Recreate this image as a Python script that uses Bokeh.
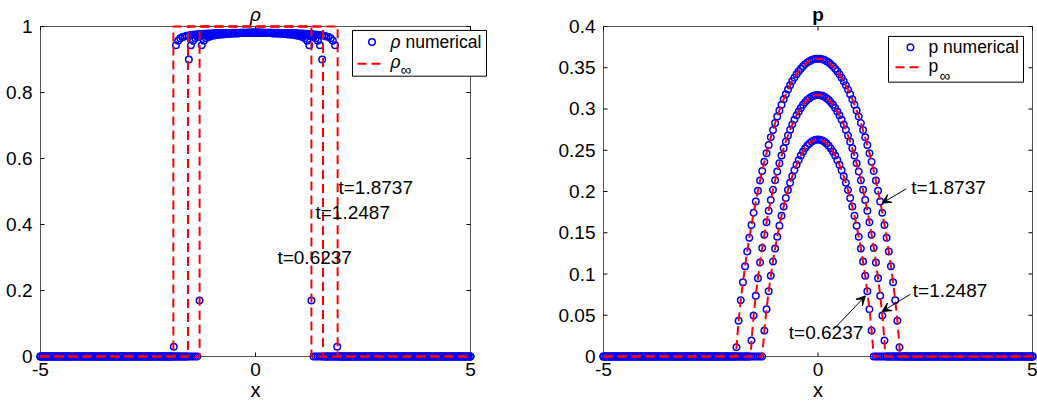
import numpy as np
from bokeh.plotting import figure
from bokeh.layouts import row
from bokeh.models import (ColumnDataSource, Label, Arrow, VeeHead, LinearAxis,
                          FixedTicker, Range1d)
from bokeh.embed import file_html
from bokeh.resources import INLINE

# ---------------------------------------------------------------- data --
# output times of the three snapshots
times = ["0.6237", "1.2487", "1.8737"]

# mesh nodes on [-5, 5]
dx = 0.05
x_grid = np.round(np.linspace(-5.0, 5.0, 201), 2)

# half-width of the asymptotic support at each time
front = [1.30, 1.57, 1.91]

# numerical density: first nonzero node and values from there on (zero elsewhere)
rho_start = [-1.30, -1.55, -1.90]
rho_t1 = [0.170, 0.943, 0.957, 0.964, 0.968, 0.970, 0.972, 0.973, 0.974, 0.975,
          0.976, 0.976, 0.977, 0.977, 0.978, 0.978, 0.979, 0.979, 0.979, 0.980,
          0.980, 0.980, 0.980, 0.981, 0.981, 0.982, 0.982, 0.982, 0.981, 0.981,
          0.980, 0.980, 0.980, 0.980, 0.979, 0.979, 0.979, 0.978, 0.978, 0.977,
          0.977, 0.976, 0.976, 0.975, 0.974, 0.973, 0.972, 0.970, 0.968, 0.964,
          0.957, 0.943, 0.170]
rho_t2 = [0.900, 0.943, 0.957, 0.964, 0.968, 0.970, 0.972, 0.973, 0.974, 0.975,
          0.976, 0.976, 0.977, 0.977, 0.978, 0.978, 0.979, 0.979, 0.979, 0.980,
          0.980, 0.980, 0.980, 0.980, 0.981, 0.981, 0.981, 0.981, 0.982, 0.982,
          0.982, 0.982, 0.982, 0.982, 0.982, 0.981, 0.981, 0.981, 0.981, 0.980,
          0.980, 0.980, 0.980, 0.980, 0.979, 0.979, 0.979, 0.978, 0.978, 0.977,
          0.977, 0.976, 0.976, 0.975, 0.974, 0.973, 0.972, 0.970, 0.968, 0.964,
          0.957, 0.943, 0.900]
rho_t3 = [0.030, 0.943, 0.957, 0.964, 0.968, 0.970, 0.972, 0.973, 0.974, 0.975,
          0.976, 0.976, 0.977, 0.977, 0.978, 0.978, 0.979, 0.979, 0.979, 0.980,
          0.980, 0.980, 0.980, 0.980, 0.980, 0.980, 0.980, 0.981, 0.981, 0.981,
          0.981, 0.981, 0.981, 0.981, 0.981, 0.981, 0.981, 0.981, 0.981, 0.981,
          0.981, 0.981, 0.981, 0.981, 0.981, 0.981, 0.981, 0.981, 0.981, 0.981,
          0.980, 0.980, 0.980, 0.980, 0.980, 0.980, 0.980, 0.980, 0.979, 0.979,
          0.979, 0.978, 0.978, 0.977, 0.977, 0.976, 0.976, 0.975, 0.974, 0.973,
          0.972, 0.970, 0.968, 0.964, 0.957, 0.943, 0.030]

# numerical pressure: first nonzero node and values from there on
p_start = [-1.25, -1.55, -1.90]
p_t1 = [0.0314, 0.0573, 0.0790, 0.0980, 0.1152, 0.1308, 0.1452, 0.1584, 0.1706, 0.1818,
        0.1922, 0.2018, 0.2105, 0.2185, 0.2258, 0.2324, 0.2383, 0.2436, 0.2482, 0.2521,
        0.2555, 0.2582, 0.2603, 0.2618, 0.2627, 0.2630, 0.2627, 0.2618, 0.2603, 0.2582,
        0.2555, 0.2521, 0.2482, 0.2436, 0.2383, 0.2324, 0.2258, 0.2185, 0.2105, 0.2018,
        0.1922, 0.1818, 0.1706, 0.1584, 0.1452, 0.1308, 0.1152, 0.0980, 0.0790, 0.0573,
        0.0314]
p_t2 = [0.0194, 0.0496, 0.0738, 0.0950, 0.1141, 0.1316, 0.1477, 0.1627, 0.1767, 0.1898,
        0.2020, 0.2135, 0.2242, 0.2342, 0.2435, 0.2523, 0.2604, 0.2679, 0.2748, 0.2812,
        0.2870, 0.2923, 0.2970, 0.3012, 0.3050, 0.3082, 0.3109, 0.3131, 0.3148, 0.3160,
        0.3168, 0.3170, 0.3168, 0.3160, 0.3148, 0.3131, 0.3109, 0.3082, 0.3050, 0.3012,
        0.2970, 0.2923, 0.2870, 0.2812, 0.2748, 0.2679, 0.2604, 0.2523, 0.2435, 0.2342,
        0.2242, 0.2135, 0.2020, 0.1898, 0.1767, 0.1627, 0.1477, 0.1316, 0.1141, 0.0950,
        0.0738, 0.0496, 0.0194]
p_t3 = [0.0113, 0.0435, 0.0683, 0.0899, 0.1094, 0.1273, 0.1439, 0.1595, 0.1742, 0.1880,
        0.2010, 0.2133, 0.2250, 0.2360, 0.2465, 0.2564, 0.2658, 0.2746, 0.2830, 0.2909,
        0.2983, 0.3052, 0.3118, 0.3179, 0.3235, 0.3288, 0.3336, 0.3380, 0.3420, 0.3457,
        0.3489, 0.3517, 0.3542, 0.3563, 0.3580, 0.3593, 0.3602, 0.3608, 0.3610, 0.3608,
        0.3602, 0.3593, 0.3580, 0.3563, 0.3542, 0.3517, 0.3489, 0.3457, 0.3420, 0.3380,
        0.3336, 0.3288, 0.3235, 0.3179, 0.3118, 0.3052, 0.2983, 0.2909, 0.2830, 0.2746,
        0.2658, 0.2564, 0.2465, 0.2360, 0.2250, 0.2133, 0.2010, 0.1880, 0.1742, 0.1595,
        0.1439, 0.1273, 0.1094, 0.0899, 0.0683, 0.0435, 0.0113]

# axis ticks
x_ticks = [-5, 0, 5]
x_tick_labels = ["-5", "0", "5"]
rho_ticks = [0, 0.2, 0.4, 0.6, 0.8, 1]
rho_tick_labels = ["0", "0.2", "0.4", "0.6", "0.8", "1"]
p_ticks = [0, 0.05, 0.1, 0.15, 0.2, 0.25, 0.3, 0.35, 0.4]
p_tick_labels = ["0", "0.05", "0.1", "0.15", "0.2", "0.25", "0.3", "0.35", "0.4"]

# ------------------------------------------------------------- helpers --
FONT = "Liberation Sans"
AXC = "#555555"
BLUE = "#0000ff"
RED = "#ff0000"
DASH = "9 5"
TICK_PX = 4
BOX_H = 332           # axes box height in px
BOX_TOP = 24          # axes box top edge on the canvas
PAD_T, PAD_B = 2, 5   # drawing area beyond the axes box (px)
BORDER_T = BOX_TOP - PAD_T
BORDER_B = 407 - BORDER_T - (PAD_T + BOX_H + PAD_B)


def on_grid(start, seg):
    vals = np.zeros(len(x_grid))
    i0 = int(round((start - x_grid[0]) / dx))
    vals[i0:i0 + len(seg)] = seg
    return vals


def seg_x(start, seg):
    return [round(start + dx * i, 4) for i in range(len(seg))]


def quiet_axis(ax):
    ax.axis_line_color = None
    ax.major_tick_line_color = None
    ax.minor_tick_line_color = None
    ax.major_tick_in = 0
    ax.major_tick_out = 0
    ax.minor_tick_in = 0
    ax.minor_tick_out = 0
    ax.major_label_text_font = FONT
    ax.major_label_text_color = "black"


def make_panel(border_l, box_w, pad_l, pad_r, y_end, y_ticks, y_labels, title, style):
    xs = box_w / 10.0
    ys = BOX_H / y_end
    x_rng = Range1d(-5 - pad_l / xs, 5 + pad_r / xs)
    y_rng = Range1d(-PAD_B / ys, y_end + PAD_T / ys)
    width = border_l + pad_l + box_w + pad_r
    p = figure(width=width, height=407, x_range=x_rng, y_range=y_rng, title=None,
               output_backend="svg", toolbar_location=None,
               min_border_left=border_l, min_border_right=0,
               min_border_top=BORDER_T, min_border_bottom=BORDER_B)
    p.xgrid.visible = False
    p.ygrid.visible = False
    p.outline_line_color = None
    p.background_fill_color = "white"
    p.border_fill_color = "white"

    # tick labels
    xa = p.xaxis[0]
    quiet_axis(xa)
    xa.ticker = FixedTicker(ticks=x_ticks)
    xa.major_label_overrides = dict(zip(x_ticks, x_tick_labels))
    xa.major_label_text_font_size = "19px"
    xa.major_label_standoff = 1
    ya = p.yaxis[0]
    quiet_axis(ya)
    ya.ticker = FixedTicker(ticks=y_ticks)
    ya.major_label_overrides = dict(zip(y_ticks, y_labels))
    ya.major_label_text_font_size = "19px"
    ya.major_label_standoff = 2

    # "x" centred under x = 0
    xl = LinearAxis(ticker=FixedTicker(ticks=[0]), major_label_overrides={0: "x"},
                    major_label_text_font_size="20px", major_label_standoff=0)
    quiet_axis(xl)
    p.add_layout(xl, "below")

    # panel title centred over x = 0
    tl = LinearAxis(ticker=FixedTicker(ticks=[0]), major_label_overrides={0: title},
                    major_label_text_font_size="19px", major_label_standoff=0,
                    major_label_text_font_style=style)
    quiet_axis(tl)
    p.add_layout(tl, "above")

    # axes box and inward ticks on all four sides
    p.multi_line([[-5, 5, 5, -5, -5]], [[0, 0, y_end, y_end, 0]],
                 line_color=AXC, line_width=1)
    tx, ty = TICK_PX / xs, TICK_PX / ys
    t_xs, t_ys = [], []
    for t in x_ticks:
        t_xs += [[t, t], [t, t]]
        t_ys += [[0, ty], [y_end, y_end - ty]]
    for t in y_ticks:
        t_xs += [[-5, -5 + tx], [5, 5 - tx]]
        t_ys += [[t, t], [t, t]]
    p.multi_line(t_xs, t_ys, line_color="black", line_width=1)

    # canvas-pixel -> data helpers for placing the key
    left_px = border_l + pad_l
    p._X = lambda px: -5 + (px - left_px) / xs
    p._Y = lambda py: (BOX_TOP + BOX_H - py) / ys
    return p


def draw_key(p, box, circ, dash, texts):
    X, Y = p._X, p._Y
    l, r, t, b = box
    p.quad(left=[X(l)], right=[X(r)], top=[Y(t)], bottom=[Y(b)],
           fill_color="white", line_color="black", line_width=1)
    p.scatter([X(circ[0])], [Y(circ[1])], marker="circle", size=6.5,
              fill_color=None, line_color=BLUE, line_width=1.5)
    p.line([X(dash[0]), X(dash[1])], [Y(dash[2]), Y(dash[2])],
           line_color=RED, line_width=2, line_dash=DASH)
    for txt, px, py, size, style in texts:
        p.add_layout(Label(x=X(px), y=Y(py), text=txt, text_font=FONT,
                           text_font_size=size, text_font_style=style,
                           text_align="left", text_baseline="middle",
                           text_color="black"))


def add_text(p, x, y, txt):
    p.add_layout(Label(x=x, y=y, text=txt, text_font=FONT,
                       text_font_size="19px", text_align="left",
                       text_baseline="middle", text_color="black"))


# ------------------------------------------------------------ density --
rho_num = [on_grid(s, v) for s, v in zip(rho_start, [rho_t1, rho_t2, rho_t3])]
src_rho = ColumnDataSource(dict(x=np.tile(x_grid, 3), y=np.concatenate(rho_num)))
box_xs = [[-5, -R, -R, R, R, 5] for R in front]
box_ys = [[0, 0, 1, 1, 0, 0] for _ in front]

p1 = make_panel(34, 430, 6, 50, 1.0, rho_ticks, rho_tick_labels, "ρ", "italic")
p1.scatter("x", "y", source=src_rho, marker="circle", size=6.5,
           fill_color=None, line_color=BLUE, line_width=1.5)
p1.multi_line(box_xs, box_ys, line_color=RED, line_width=2, line_dash=DASH)
draw_key(p1, (352, 486, 28, 74), (371.5, 39.5), (357, 381, 61.5),
         [("ρ", 390, 39.5, "17.5px", "italic"),
          ("numerical", 405, 39.5, "17.5px", "normal"),
          ("ρ", 390, 59.5, "17.5px", "italic"),
          ("∞", 400, 67.5, "15px", "normal")])
for txt, tx, ty in zip(times, [0.51, 1.395, 1.93], [0.301, 0.437, 0.512]):
    add_text(p1, tx, ty, "t=" + txt)

# ----------------------------------------------------------- pressure --
p_num = [on_grid(s, v) for s, v in zip(p_start, [p_t1, p_t2, p_t3])]
src_p = ColumnDataSource(dict(x=np.tile(x_grid, 3), y=np.concatenate(p_num)))
pr_xs = [[-5, -R] + seg_x(s, v) + [R, 5]
         for s, v, R in zip(p_start, [p_t1, p_t2, p_t3], front)]
pr_ys = [[0, 0] + list(v) + [0, 0] for v in [p_t1, p_t2, p_t3]]

p2 = make_panel(77, 429, 6, 5, 0.4, p_ticks, p_tick_labels, "p", "bold")
p2.scatter("x", "y", source=src_p, marker="circle", size=6.5,
           fill_color=None, line_color=BLUE, line_width=1.5)
p2.multi_line(pr_xs, pr_ys, line_color=RED, line_width=2, line_dash=DASH)
draw_key(p2, (368, 503, 34, 80), (390, 45), (375, 399, 65),
         [("p numerical", 408, 45, "17.5px", "normal"),
          ("p", 408, 64, "17.5px", "normal"),
          ("∞", 419, 73.5, "15px", "normal")])

# time labels with arrows pointing at each profile
lab_pos = [(-0.68, 0.0289), (2.21, 0.0795), (2.175, 0.2048)]
arrow_tail = [(0.406, 0.0353), (2.154, 0.0755), (2.06, 0.2033)]
arrow_head = [(1.105, 0.0735), (1.494, 0.0546), (1.494, 0.186)]
for txt, (tx, ty), (ax0, ay0), (ax1, ay1) in zip(times, lab_pos, arrow_tail, arrow_head):
    add_text(p2, tx, ty, "t=" + txt)
    p2.add_layout(Arrow(end=VeeHead(size=9, fill_color="black", line_color="black",
                                    line_width=1),
                        x_start=ax0, y_start=ay0, x_end=ax1, y_end=ay1,
                        line_color="black", line_width=1))

layout = row(p1, p2)
open("out.html", "w").write(file_html(layout, INLINE))
